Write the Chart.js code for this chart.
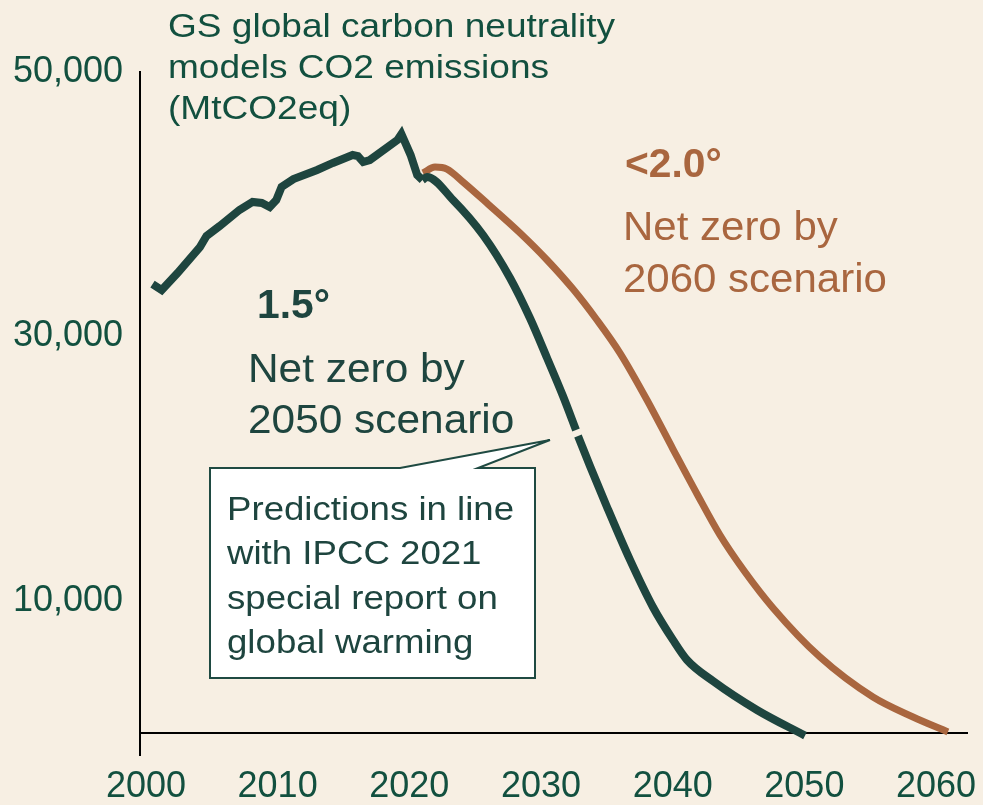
<!DOCTYPE html>
<html><head><meta charset="utf-8">
<script src="https://cdn.jsdelivr.net/npm/chart.js@4"></script>
<style>html,body{margin:0;padding:0;background:#F7EFE3;overflow:hidden}canvas{display:block}</style>
</head><body><canvas id="c" width="983" height="805"></canvas>
<script>
// ---- data ----
const xTickYears = [2000, 2010, 2020, 2030, 2040, 2050, 2060];
const yTickValues = [10000, 30000, 50000];

const historyYears  = [2000.5, 2001.2, 2002.4, 2004.1, 2004.6, 2005.6, 2007.1, 2008.1, 2008.8, 2009.4, 2009.9, 2010.3, 2011.2, 2013.0, 2014.2, 2015.7, 2016.1, 2016.5, 2017.0, 2019.1, 2019.4, 2020.1, 2020.6, 2021.0];
const historyValues = [33960, 33510, 34790, 36760, 37590, 38350, 39560, 40170, 40090, 39790, 40320, 41300, 41900, 42590, 43120, 43720, 43640, 43190, 43340, 44860, 45310, 43720, 42210, 41830];

const netZero2050Years  = [2021.0, 2021.34, 2023.32, 2025.6, 2027.65, 2029.16, 2030.46, 2031.67, 2032.66, 2032.73, 2032.81, 2033.72, 2035.01, 2036.76, 2038.5, 2040.02, 2041.09, 2043.06, 2046.4, 2050.05];
const netZero2050Values = [41830, 42060, 40320, 37670, 34420, 31390, 28370, 25490, 22920, null, 22470, 20200, 17100, 13090, 9530, 7040, 5520, 3930, 1740, -200];

const netZero2060Years  = [2021.04, 2021.95, 2022.86, 2024.08, 2025.98, 2028.41, 2030.46, 2032.43, 2034.25, 2036.0, 2038.05, 2040.02, 2041.85, 2043.59, 2045.49, 2047.62, 2051.18, 2055.21, 2058.25, 2060.9];
const netZero2060Values = [42360, 42810, 42660, 41680, 40010, 37820, 35780, 33580, 31240, 28740, 25190, 21480, 18080, 14980, 12180, 9460, 5750, 2720, 1210, 80];

const titleLines = ['GS global carbon neutrality', 'models CO2 emissions', '(MtCO2eq)'];
const label15 = ['1.5°', 'Net zero by', '2050 scenario'];
const label20 = ['<2.0°', 'Net zero by', '2060 scenario'];
const calloutLines = ['Predictions in line', 'with IPCC 2021', 'special report on', 'global warming'];

// ---- styles ----
const GREEN = '#1E453F';
const BROWN = '#A9663F';
const TXT = '#12503F';
const FONT = '"Liberation Sans", Arial, sans-serif';

const pts = (xs, ys) => xs.map((x, i) => ({x: x, y: ys[i]}));

function txt(ctx, s, x, y, size, color, bold, sx) {
  ctx.save();
  ctx.font = (bold ? 'bold ' : '') + size + 'px ' + FONT;
  ctx.fillStyle = color;
  ctx.textBaseline = 'alphabetic';
  ctx.textAlign = 'left';
  ctx.translate(x, y);
  ctx.scale(sx || 1, 1);
  ctx.fillText(s, 0, 0);
  ctx.restore();
}

const annotations = {
  id: 'annotations',
  afterDraw(chart) {
    const ctx = chart.ctx;
    titleLines.forEach((s, i) => txt(ctx, s, 168, 37 + i * 41, 34, TXT, false, 1.09));
    txt(ctx, label15[0], 257, 318, 40, GREEN, true, 1.02);
    txt(ctx, label15[1], 248, 382, 40, GREEN, false, 1.06);
    txt(ctx, label15[2], 248, 433, 40, GREEN, false, 1.06);
    txt(ctx, label20[0], 625, 177, 40, BROWN, true, 1.02);
    txt(ctx, label20[1], 623, 240, 40, BROWN, false, 1.05);
    txt(ctx, label20[2], 623, 292, 40, BROWN, false, 1.05);
    ctx.save();
    ctx.beginPath();
    ctx.moveTo(210, 468); ctx.lineTo(400, 468); ctx.lineTo(550, 440); ctx.lineTo(478, 468);
    ctx.lineTo(535, 468); ctx.lineTo(535, 678); ctx.lineTo(210, 678); ctx.closePath();
    ctx.fillStyle = '#FFFFFF'; ctx.fill();
    ctx.lineWidth = 2; ctx.strokeStyle = '#1F4A42'; ctx.lineJoin = 'miter'; ctx.stroke();
    ctx.restore();
    calloutLines.forEach((s, i) => txt(ctx, s, 227, 520 + i * 44.3, 33, GREEN, false, 1.11));
  }
};

new Chart(document.getElementById('c'), {
  type: 'line',
  data: {
    datasets: [
      {label: 'Historical', data: pts(historyYears, historyValues), borderColor: GREEN, borderWidth: 8,
       pointRadius: 0, tension: 0, borderJoinStyle: 'miter', fill: false},
      {label: 'Net zero by 2050 (1.5°)', data: pts(netZero2050Years, netZero2050Values), borderColor: GREEN, borderWidth: 8,
       pointRadius: 0, cubicInterpolationMode: 'monotone', spanGaps: false, fill: false},
      {label: 'Net zero by 2060 (<2.0°)', data: pts(netZero2060Years, netZero2060Values), borderColor: BROWN, borderWidth: 7,
       pointRadius: 0, cubicInterpolationMode: 'monotone', fill: false}
    ]
  },
  options: {
    responsive: false,
    animation: false,
    devicePixelRatio: 1,
    layout: {padding: {top: 72, right: 16, bottom: 50, left: 0}},
    plugins: {legend: {display: false}, tooltip: {enabled: false}, title: {display: false}},
    scales: {
      x: {
        type: 'linear', min: 1999.55, max: 2062.35,
        position: {y: 0},
        grid: {display: false, drawTicks: false},
        border: {display: true, color: '#000000', width: 2},
        afterBuildTicks: s => { s.ticks = xTickYears.map(v => ({value: v})); },
        afterFit: s => { s.paddingLeft = 0; s.paddingRight = 0; },
        ticks: {autoSkip: false, maxRotation: 0, padding: 32, color: TXT,
                font: {family: FONT, size: 36}, callback: v => String(v)}
      },
      y: {
        type: 'linear', min: -1665, max: 50000,
        grid: {display: false, drawTicks: false},
        border: {display: true, color: '#000000', width: 2},
        afterBuildTicks: s => { s.ticks = yTickValues.map(v => ({value: v})); },
        afterFit: s => { s.width = 140; s.paddingTop = 0; s.paddingBottom = 0; },
        ticks: {padding: 17, color: TXT, font: {family: FONT, size: 36},
                callback: v => v.toLocaleString('en-US')}
      }
    }
  },
  plugins: [annotations]
});
</script>
</body></html>
